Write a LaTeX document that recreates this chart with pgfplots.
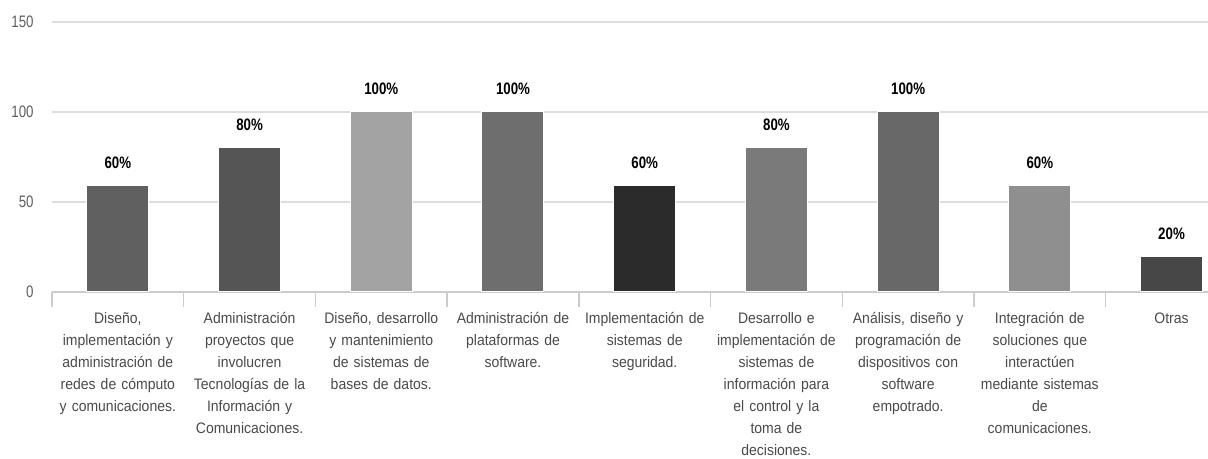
\documentclass[border=0pt]{standalone}
\usepackage{fontspec}
\setmainfont{Liberation Sans}
\newfontfamily\cond[FakeStretch=0.8]{Liberation Sans}
\newfontfamily\catf[FakeStretch=0.92]{Liberation Sans}
\usepackage{pgfplots}
\pgfplotsset{compat=1.18}
\usetikzlibrary{calc}
\definecolor{c1}{HTML}{606060}
\definecolor{c2}{HTML}{555555}
\definecolor{c3}{HTML}{A3A3A3}
\definecolor{c4}{HTML}{6E6E6E}
\definecolor{c5}{HTML}{2B2B2B}
\definecolor{c6}{HTML}{7A7A7A}
\definecolor{c7}{HTML}{686868}
\definecolor{c8}{HTML}{8F8F8F}
\definecolor{c9}{HTML}{474747}
\definecolor{gridc}{HTML}{DDDDDD}
\definecolor{axl}{HTML}{CCCCCC}
\definecolor{txt}{HTML}{4A4A4A}
\definecolor{ytxt}{HTML}{5E5E5E}
\begin{document}
\begin{tikzpicture}
\begin{axis}[
  name=ax,
  scale only axis, width=578pt, height=135pt,
  xmin=-0.5, xmax=8.277, ymin=0, ymax=150,
  ybar, bar width=31pt, bar shift=0pt,
  ytick={0,50,100,150},
  ymajorgrids, grid style={color=gridc, line width=0.75pt},
  axis x line*=bottom, axis y line*=left,
  y axis line style={draw=none},
  x axis line style={draw=axl, line width=0.75pt},
  xtick={0,1,2,3,4,5,6,7,8},
  xticklabels={
    {\strut Diseño,\\implementación y\\administración de\\redes de cómputo\\y comunicaciones.},
    {\strut Administración\\proyectos que\\involucren\\Tecnologías de la\\Información y\\Comunicaciones.},
    {\strut Diseño, desarrollo\\y mantenimiento\\de sistemas de\\bases de datos.},
    {\strut Administración de\\plataformas de\\software.},
    {\strut Implementación de\\sistemas de\\seguridad.},
    {\strut Desarrollo e\\implementación de\\sistemas de\\información para\\el control y la\\toma de\\decisiones.},
    {\strut Análisis, diseño y\\programación de\\dispositivos con\\software\\empotrado.},
    {\strut Integración de\\soluciones que\\interactúen\\mediante sistemas\\de\\comunicaciones.},
    {\strut Otras}},
  minor xtick={-0.5,0.5,1.5,2.5,3.5,4.5,5.5,6.5,7.5},
  major tick length=0pt, minor tick length=7.5pt, tick align=outside,
  minor tick style={draw=axl, line width=0.75pt},
  major tick style={draw=none},
  /pgf/number format/assume math mode=true,
  yticklabel style={font=\cond\fontsize{8.3}{10}\selectfont, text=ytxt, inner sep=0pt, anchor=east, xshift=-9pt},
  xticklabel style={font=\catf\fontsize{7.6}{11}\selectfont, text=txt, text width=72pt, align=center, anchor=north, inner sep=0pt, yshift=-7.8pt},
  nodes near coords, point meta=explicit symbolic,
  every node near coord/.append style={font=\cond\bfseries\fontsize{8.3}{10}\selectfont, text=black, anchor=south, inner sep=0pt, yshift=8.3pt},
  clip=false,
]
\addplot[fill=c1, draw=white, line width=0.5pt] coordinates {(0,59) [60\%]};
\addplot[fill=c2, draw=white, line width=0.5pt] coordinates {(1,80) [80\%]};
\addplot[fill=c3, draw=white, line width=0.5pt] coordinates {(2,100) [100\%]};
\addplot[fill=c4, draw=white, line width=0.5pt] coordinates {(3,100) [100\%]};
\addplot[fill=c5, draw=white, line width=0.5pt] coordinates {(4,59) [60\%]};
\addplot[fill=c6, draw=white, line width=0.5pt] coordinates {(5,80) [80\%]};
\addplot[fill=c7, draw=white, line width=0.5pt] coordinates {(6,100) [100\%]};
\addplot[fill=c8, draw=white, line width=0.5pt] coordinates {(7,59) [60\%]};
\addplot[fill=c9, draw=white, line width=0.5pt] coordinates {(8,19.5) [20\%]};
\end{axis}
\pgfresetboundingbox
\path ($(ax.south west)+(-26pt,-83.5pt)$) rectangle ($(ax.north east)+(0pt,11pt)$);
\end{tikzpicture}
\end{document}
